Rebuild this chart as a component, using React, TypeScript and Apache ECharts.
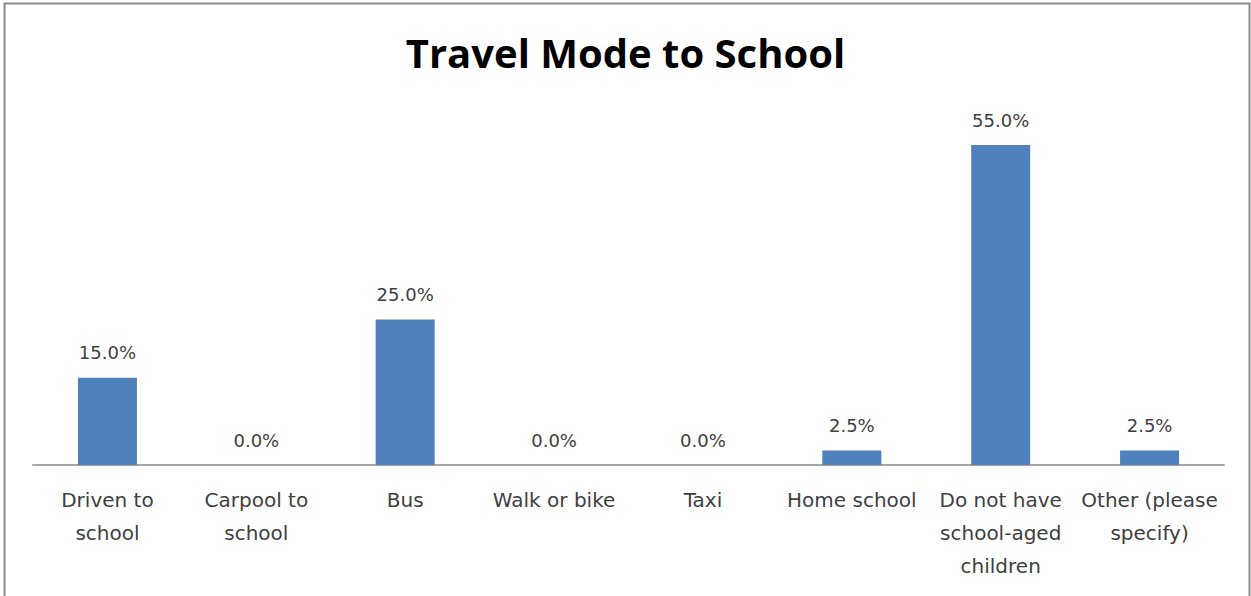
import React, { useEffect, useRef } from "react";
import * as echarts from "echarts";

const titleText = "Travel Mode to School";
const categories = [
  "Driven to\nschool",
  "Carpool to\nschool",
  "Bus",
  "Walk or bike",
  "Taxi",
  "Home school",
  "Do not have\nschool-aged\nchildren",
  "Other (please\nspecify)",
];
const values = [15.0, 0.0, 25.0, 0.0, 0.0, 2.5, 55.0, 2.5];

const TITLE_FONT = "'Open Sans', 'Noto Sans', sans-serif";
const FONT = "'DejaVu Sans', sans-serif";

export default function App() {
  const ref = useRef<HTMLDivElement>(null);
  useEffect(() => {
    if (!ref.current) return;
    const chart = echarts.init(ref.current, undefined, { renderer: "svg" });
    chart.setOption({
      animation: false,
      backgroundColor: "#ffffff",
      title: {
        text: titleText,
        left: "center",
        top: 27,
        textStyle: {
          fontFamily: TITLE_FONT,
          fontWeight: "bold",
          fontSize: 40,
          color: "#000000",
        },
      },
      graphic: [
        {
          type: "rect",
          shape: { x: 4.5, y: 3.5, width: 1245, height: 600 },
          style: { fill: "none", stroke: "#8c8c8c", lineWidth: 2 },
          silent: true,
        },
      ],
      grid: { left: 33, right: 27, top: 116, bottom: 131, containLabel: false },
      xAxis: {
        type: "category",
        data: categories,
        axisLine: { lineStyle: { color: "#a6a6a6", width: 2 } },
        axisTick: { show: false },
        axisLabel: {
          interval: 0,
          margin: 18,
          fontFamily: FONT,
          fontSize: 20,
          lineHeight: 33,
          color: "#404040",
        },
      },
      yAxis: {
        type: "value",
        min: 0,
        max: 60,
        show: false,
        splitLine: { show: false },
      },
      series: [
        {
          type: "bar",
          data: values,
          barWidth: 59,
          itemStyle: { color: "#4F81BD" },
          label: {
            show: true,
            position: "top",
            distance: 16,
            fontFamily: FONT,
            fontSize: 18,
            color: "#404040",
            formatter: (p: any) => p.value.toFixed(1) + "%",
          },
        },
      ],
    });
    return () => chart.dispose();
  }, []);
  return (
    <div
      ref={ref}
      style={{ position: "fixed", left: 0, top: 0, width: 1251, height: 596 }}
    />
  );
}
